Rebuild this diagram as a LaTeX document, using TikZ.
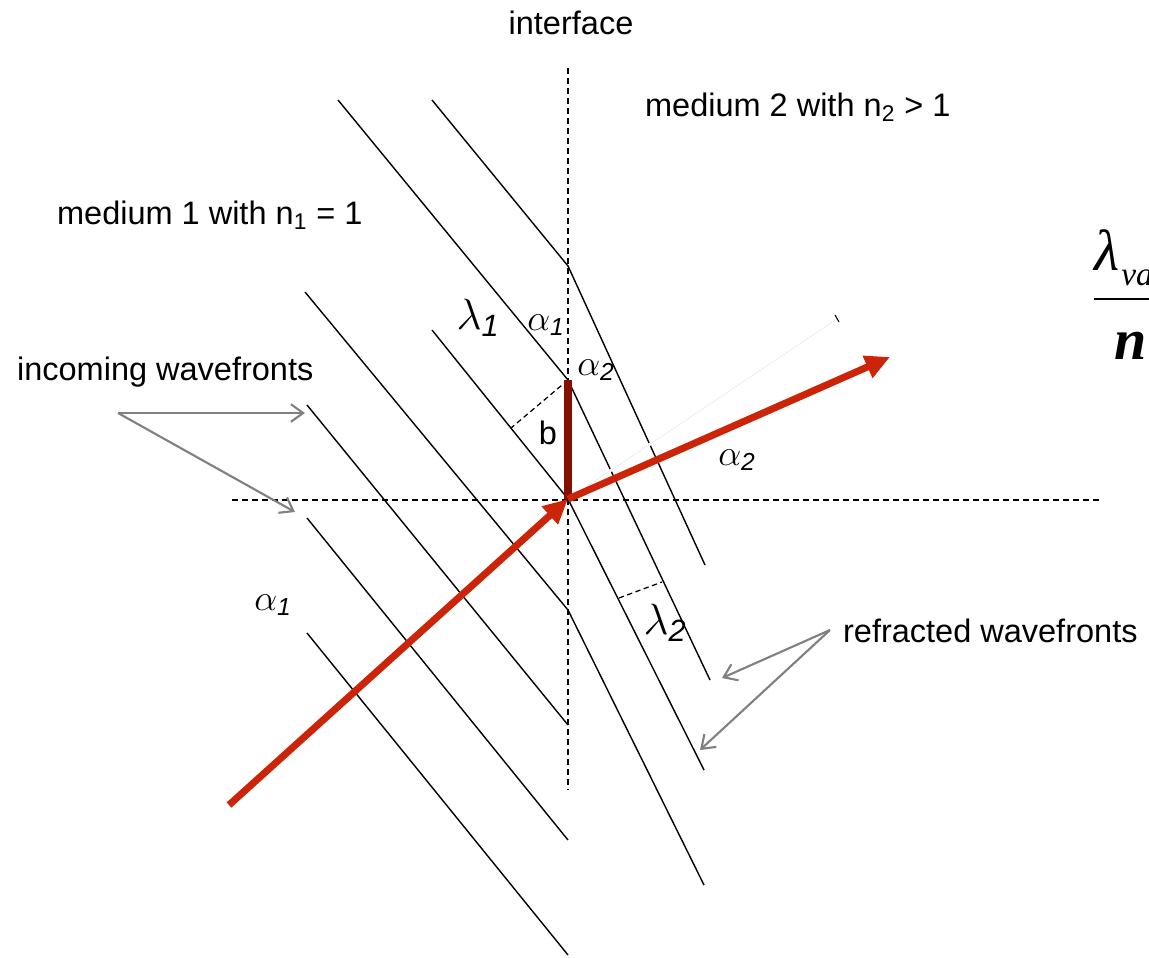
\documentclass[tikz,border=0pt]{standalone}
\usepackage{fontspec}
\usepackage{amsmath}
\setmainfont{Liberation Sans}
\newfontfamily\formulafont{Liberation Serif}
\usetikzlibrary{arrows.meta, positioning}
\definecolor{rayred}{RGB}{204,36,8}
\definecolor{bardark}{RGB}{134,16,0}
\definecolor{pointergray}{RGB}{128,128,128}

\begin{document}
\begin{tikzpicture}[
    x=0.02cm, y=-0.02cm,
    every node/.style={font=\fontsize{18.5}{22}\selectfont, inner sep=1pt},
    wavefront/.style={draw=black, line width=0.8pt},
    axisline/.style={draw=black, line width=1pt, dash pattern=on 3.4pt off 2.3pt},
    helper/.style={draw=black, line width=0.7pt, dash pattern=on 3pt off 2pt},
    ray/.style={draw=rayred, line width=4pt, -{Triangle[length=14pt, width=13pt]}},
    bar/.style={draw=bardark, line width=4pt},
    pointer/.style={draw=pointergray, line width=1.2pt, -{Straight Barb[length=7pt, width=10pt]}},
    greek/.style={font=\fontsize{20}{24}\selectfont},
    biggreek/.style={font=\fontsize{25}{30}\selectfont}
]
\useasboundingbox (0,0) rectangle (1149,957);
\clip (0,0) rectangle (1149,957);

% Interface points
\coordinate (i1) at (568,266);
\coordinate (i2) at (568,380);
\coordinate (i3) at (568,499);
\coordinate (i4) at (568,610);
\coordinate (i5) at (568,725);
\coordinate (i6) at (568,840);
\coordinate (i7) at (568,955);

% Axes
\draw [axisline] (568,68) -- (568,790);
\draw [axisline] (232,500) -- (1103,500);

% Wavefronts
\draw [wavefront] (432,100) -- (i1) -- (705,565);
\draw [wavefront] (338,100) -- (i2) -- (710,680);
\draw [wavefront] (432,330) -- (i3) -- (704,770);
\draw [wavefront] (305,292) -- (i4) -- (704,885);
\draw [wavefront] (307,405) -- (i5);
\draw [wavefront] (307,518) -- (i6);
\draw [wavefront] (307,633) -- (i7);

% Wavelength markers
\coordinate (bfoot) at (511,428);
\draw [helper] (i2) -- (bfoot);
\coordinate (lamA) at (619,598);
\coordinate (lamB) at (662,582);
\draw [helper] (lamA) -- (lamB);

% Faint guide
\coordinate (guide) at (837,319);
\draw [white, line width=1.6pt] (i3) -- (guide);
\draw [black!12, line width=0.2pt] (i3) -- (guide);
\draw [black, line width=0.6pt] (835,315) -- (839,322);

% Rays
\coordinate (src) at (229,805);
\coordinate (out) at (890,357);
\draw [bar] (i2) -- (i3);
\draw [ray] (src) -- (i3);
\draw [ray] (i3) -- (out);

% Labels
\node (interface) at (571,23) {interface};
\node [anchor=west] (medium2) at (643,107) {medium 2 with n\textsubscript{2} > 1};
\node [anchor=west] (medium1) at (55,215) {medium 1 with n\textsubscript{1} = 1};
\node [anchor=west] (incoming) at (15,372) {incoming wavefronts};
\node [anchor=west] (refracted) at (841,631) {refracted wavefronts};

\node [biggreek] (lambda1) at (478,318) {$\lambda_{\textit{1}}$};
\node [biggreek] (lambda2) at (665,623) {$\lambda_{\textit{2}}$};
\node [greek] (alphaTop) at (546,325) {$\alpha_{\textit{1}}$};
\node [greek] (alphaMid) at (596,370) {$\alpha_{\textit{2}}$};
\node [greek] (alphaOut) at (737,460) {$\alpha_{\textit{2}}$};
\node [greek] (alphaIn) at (273,605) {$\alpha_{\textit{1}}$};
\node (bLabel) at (548,433) {b};

\node [anchor=base west, inner sep=0pt] (ratio) at (1092,310)
    {\fontsize{33}{40}\selectfont\formulafont$\displaystyle\frac{\text{\itshape λ\kern1pt\raisebox{-9pt}{\fontsize{19}{22}\selectfont vac}}\rule[-13pt]{0pt}{1pt}}{\text{\bfseries\itshape n}\rule{0pt}{31pt}}$};

% Pointers
\coordinate (incTail) at (118,413);
\coordinate (incTipA) at (305,413);
\coordinate (incTipB) at (295,512);
\draw [pointer] (incTail) -- (incTipA);
\draw [pointer] (incTail) -- (incTipB);

\coordinate (refTail) at (830,630);
\coordinate (refTipA) at (722,678);
\coordinate (refTipB) at (700,750);
\draw [pointer] (refTail) -- (refTipA);
\draw [pointer] (refTail) -- (refTipB);

\end{tikzpicture}
\end{document}
